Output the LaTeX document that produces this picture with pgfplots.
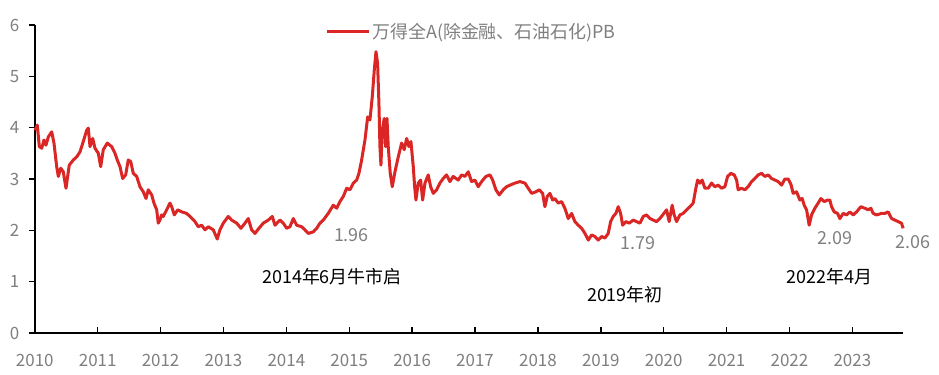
\documentclass[border=0pt]{standalone}
\usepackage{fontspec}
\setmainfont{Noto Sans CJK SC}
\usepackage{pgfplots}
\pgfplotsset{compat=1.18}
\definecolor{lred}{RGB}{218,38,36}
\definecolor{tgray}{RGB}{127,127,127}
\begin{document}
\begin{tikzpicture}
\path[use as bounding box] (-34.8bp,-42bp) rectangle (904.2bp,333bp);
\begin{axis}[
  at={(0,0)}, anchor=south west,
  scale only axis, width=868.5bp, height=308bp,
  x coord trafo/.code={\pgfmathparse{#1-2010}},
  x coord inv trafo/.code={\pgfmathparse{#1+2010}},
  xmin=2010, xmax=2023.81, ymin=0, ymax=6,
  axis x line*=bottom, axis y line*=left,
  axis line style={line width=1.6bp, black},
  xtick={2010,2011,2012,2013,2014,2015,2016,2017,2018,2019,2020,2021,2022,2023},
  xticklabels={2010,2011,2012,2013,2014,2015,2016,2017,2018,2019,2020,2021,2022,2023},
  ytick={0,...,6},
  hide obscured x ticks=false,
  xtick align=inside, ytick align=outside,
  major tick length=6bp,
  every tick/.style={line width=1.4bp, black},
  /pgf/number format/1000 sep={},
  /pgf/number format/assume math mode=true,
  ticklabel style={font=\fontsize{17}{20}\selectfont, text=tgray},
  xticklabel style={yshift=-18bp},
  yticklabel style={xshift=-6bp},
  legend style={at={(0.503,0.98)}, anchor=center, draw=none, fill=none,
    font=\fontsize{18}{21}\selectfont, text=tgray},
  legend image code/.code={\draw[line width=2.8bp, lred] (-6bp,0bp) -- (36bp,0bp);},
  clip=false,
]
\addplot[line width=3bp, lred, line join=round] coordinates {
(2010.003,3.95)(2010.04,4.05)(2010.072,3.63)(2010.110,3.60)(2010.146,3.76)(2010.178,3.66)(2010.215,3.82)(2010.269,3.92)(2010.305,3.70)(2010.348,3.24)(2010.374,3.05)(2010.412,3.21)(2010.453,3.14)(2010.496,2.82)(2010.548,3.27)(2010.612,3.37)(2010.666,3.43)(2010.719,3.53)(2010.771,3.73)(2010.825,3.95)(2010.851,3.99)(2010.878,3.63)(2010.921,3.79)(2010.957,3.60)
(2011.010,3.50)(2011.048,3.24)(2011.089,3.57)(2011.153,3.70)(2011.223,3.63)(2011.275,3.50)(2011.312,3.37)(2011.355,3.24)(2011.397,3.01)(2011.445,3.08)(2011.486,3.37)(2011.525,3.34)(2011.566,3.11)(2011.620,3.05)(2011.672,2.85)(2011.725,2.75)(2011.768,2.62)(2011.804,2.79)(2011.859,2.69)(2011.895,2.53)(2011.938,2.40)(2011.963,2.14)(2011.990,2.20)
(2012.017,2.30)(2012.043,2.27)(2012.097,2.40)(2012.149,2.53)(2012.177,2.46)(2012.218,2.30)(2012.272,2.40)(2012.335,2.36)(2012.415,2.33)(2012.467,2.27)(2012.547,2.17)(2012.599,2.07)(2012.653,2.10)(2012.706,2.01)(2012.758,2.07)(2012.838,2.01)(2012.901,1.83)(2012.944,2.01)(2012.997,2.14)
(2013.076,2.27)(2013.130,2.20)(2013.210,2.14)(2013.278,2.04)(2013.342,2.14)(2013.394,2.23)(2013.448,2.01)(2013.501,1.94)(2013.564,2.04)(2013.633,2.14)(2013.712,2.20)(2013.776,2.27)(2013.819,2.10)(2013.898,2.20)(2013.951,2.14)
(2014.005,2.04)(2014.057,2.07)(2014.110,2.23)(2014.164,2.10)(2014.243,2.07)(2014.296,2.01)(2014.348,1.94)(2014.428,1.97)(2014.482,2.04)(2014.534,2.14)(2014.587,2.20)(2014.666,2.33)(2014.746,2.49)(2014.800,2.43)(2014.852,2.56)(2014.905,2.66)(2014.959,2.82)
(2015.011,2.79)(2015.064,2.92)(2015.118,2.98)(2015.154,3.11)(2015.197,3.37)(2015.250,3.76)(2015.293,4.21)(2015.329,4.15)(2015.366,4.60)(2015.398,5.12)(2015.425,5.48)(2015.451,5.25)(2015.472,4.47)(2015.488,3.63)(2015.504,3.27)(2015.525,3.95)(2015.556,4.18)(2015.579,3.63)(2015.600,4.18)(2015.620,3.63)(2015.652,3.11)(2015.684,2.85)(2015.727,3.14)(2015.779,3.43)(2015.833,3.70)(2015.874,3.57)(2015.913,3.79)(2015.949,3.63)(2015.981,3.73)
(2016.018,3.24)(2016.040,2.85)(2016.060,2.59)(2016.097,2.92)(2016.135,2.98)(2016.167,2.59)(2016.204,2.92)(2016.256,3.08)(2016.294,2.85)(2016.336,2.72)(2016.390,2.79)(2016.442,2.92)(2016.494,3.01)(2016.548,3.08)(2016.601,2.95)(2016.653,3.05)(2016.733,2.98)(2016.787,3.08)(2016.839,3.05)(2016.892,3.14)(2016.946,2.95)(2016.998,2.98)
(2017.051,2.85)(2017.105,2.95)(2017.173,3.05)(2017.237,3.08)(2017.280,2.98)(2017.332,2.79)(2017.385,2.69)(2017.448,2.79)(2017.502,2.85)(2017.555,2.88)(2017.634,2.92)(2017.714,2.95)(2017.793,2.92)(2017.846,2.82)(2017.900,2.72)(2017.968,2.75)
(2018.021,2.79)(2018.075,2.72)(2018.111,2.46)(2018.148,2.66)(2018.191,2.72)(2018.234,2.59)(2018.270,2.62)(2018.323,2.53)(2018.377,2.56)(2018.429,2.43)(2018.482,2.23)(2018.536,2.33)(2018.588,2.17)(2018.641,2.10)(2018.695,2.04)(2018.748,1.94)(2018.800,1.81)(2018.854,1.91)(2018.906,1.88)(2018.959,1.81)
(2019.013,1.88)(2019.065,1.85)(2019.118,1.94)(2019.156,2.17)(2019.197,2.27)(2019.240,2.33)(2019.277,2.46)(2019.315,2.33)(2019.347,2.10)(2019.399,2.17)(2019.452,2.14)(2019.515,2.20)(2019.569,2.17)(2019.622,2.14)(2019.674,2.27)(2019.728,2.30)(2019.781,2.23)(2019.833,2.20)(2019.887,2.17)(2019.939,2.23)
(2020.003,2.33)(2020.046,2.40)(2020.087,2.17)(2020.135,2.49)(2020.167,2.30)(2020.205,2.17)(2020.258,2.30)(2020.310,2.33)(2020.364,2.40)(2020.417,2.46)(2020.469,2.53)(2020.507,2.79)(2020.539,2.98)(2020.576,2.92)(2020.612,2.98)(2020.655,2.82)(2020.708,2.82)(2020.761,2.92)(2020.814,2.85)(2020.866,2.88)(2020.920,2.82)(2020.973,2.85)
(2021.016,3.05)(2021.068,3.11)(2021.121,3.08)(2021.159,2.98)(2021.184,2.79)(2021.238,2.82)(2021.291,2.79)(2021.343,2.85)(2021.397,2.95)(2021.450,3.01)(2021.502,3.08)(2021.556,3.11)(2021.609,3.05)(2021.661,3.08)(2021.715,3.01)(2021.768,2.98)(2021.820,2.95)(2021.874,2.88)(2021.927,3.00)(2021.979,3.00)
(2022.022,2.90)(2022.059,2.72)(2022.113,2.75)(2022.165,2.59)(2022.202,2.62)(2022.234,2.49)(2022.272,2.40)(2022.313,2.10)(2022.351,2.30)(2022.403,2.43)(2022.456,2.53)(2022.499,2.62)(2022.552,2.56)(2022.606,2.59)(2022.642,2.59)(2022.669,2.46)(2022.711,2.36)(2022.765,2.33)(2022.801,2.23)(2022.854,2.33)(2022.908,2.30)(2022.960,2.36)
(2023.013,2.30)(2023.067,2.36)(2023.135,2.46)(2023.199,2.43)(2023.251,2.40)(2023.294,2.43)(2023.331,2.33)(2023.385,2.30)(2023.464,2.33)(2023.517,2.33)(2023.569,2.36)(2023.623,2.23)(2023.676,2.20)(2023.728,2.17)(2023.781,2.14)(2023.807,2.04)
};
\addlegendentry{万得全A(除金融、石油石化)PB}
\begin{scope}[every node/.style={font=\fontsize{18}{21}\selectfont}]
\node[text=tgray] at (axis cs:2015.035,1.91) {1.96};
\node[text=tgray] at (axis cs:2019.59,1.75) {1.79};
\node[text=tgray] at (axis cs:2022.72,1.855) {2.09};
\node[text=tgray] at (axis cs:2023.97,1.77) {2.06};
\node[text=black] at (axis cs:2014.725,1.097) {2014年6月牛市启};
\node[text=black] at (axis cs:2019.383,0.74) {2019年初};
\node[text=black] at (axis cs:2022.634,1.097) {2022年4月};
\end{scope}
\end{axis}
\end{tikzpicture}
\end{document}
